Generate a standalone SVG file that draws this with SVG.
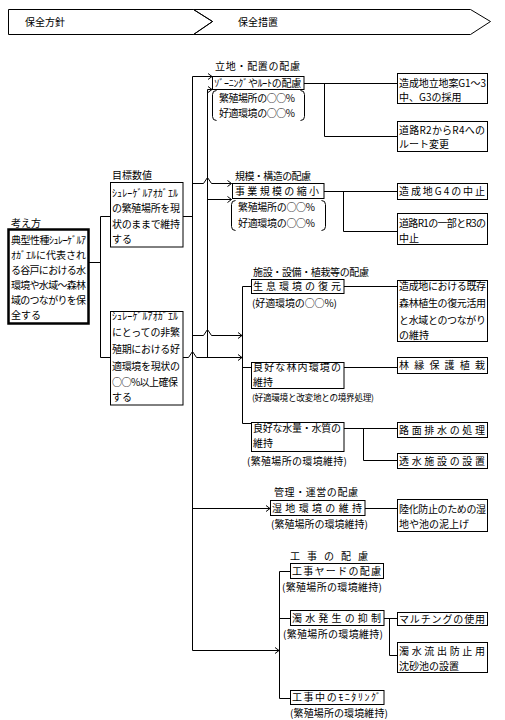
<svg xmlns="http://www.w3.org/2000/svg" width="505" height="720" viewBox="0 0 505 720">
<style>
.t{font-family:"Noto Sans CJK JP","Noto Sans CJK SC",sans-serif;font-size:10px;fill:#000}
.s{font-size:8.6px}
.b{fill:#fff;stroke:#000;stroke-width:1}
.c{fill:none;stroke:#000;stroke-width:1}
</style>
<defs>
<marker id="a" markerWidth="6" markerHeight="7" refX="5" refY="3.5" orient="auto" markerUnits="userSpaceOnUse">
<path d="M1,0.5 L5,3.5 L1,6.5" fill="none" stroke="#000" stroke-width="1"/>
</marker>
</defs>
<rect width="505" height="720" fill="#fff"/>

<g id="header">
<polygon class="c" points="8.5,9.5 193.5,9.5 212.5,21.5 193.5,34.5 8.5,34.5"/>
<polygon class="c" points="193.5,9.5 470.5,9.5 490.5,21.5 470.5,34.5 193.5,34.5 212.5,21.5"/>
<text class="t" x="25" y="26">保全方針</text>
<text class="t" x="238" y="26">保全措置</text>
</g>

<g id="connectors">
<path class="c" d="M89,262.5 H100.5 M100.5,216.5 V357.5 M100.5,216.5 H110.5 M100.5,357.5 H110.5"/>
<path class="c" d="M183,216.5 H192.5 M192.5,76.5 V650.5 M207.5,89.5 V357.5"/>
<path class="c" d="M192.5,76.5 H212" marker-end="url(#a)"/>
<path class="c" d="M207.5,89.5 H212" marker-end="url(#a)"/>
<path class="c" d="M192.5,183.5 H203.5 L207.5,177.5 L211.5,183.5 H231.5" marker-end="url(#a)"/>
<path class="c" d="M207.5,199.5 H231.5" marker-end="url(#a)"/>
<path class="c" d="M192.5,335.5 H203.5 L207.5,329.5 L211.5,335.5 H242" marker-end="url(#a)"/>
<path class="c" d="M183,357.5 H188.5 L192.5,351.5 L196.5,357.5 H242" marker-end="url(#a)"/>
<path class="c" d="M192.5,508.5 H270" marker-end="url(#a)"/>
<path class="c" d="M192.5,650.5 H279" marker-end="url(#a)"/>
<path class="c" d="M242.5,286.5 V423.5 M242.5,286.5 H251 M242.5,367.5 H251 M242.5,423.5 H251"/>
<path class="c" d="M279.5,571.5 V698.5 M279.5,571.5 H290 M279.5,618.5 H290 M279.5,698.5 H290"/>
<path class="c" d="M304,83.5 H397 M324.5,83.5 V136.5 H397"/>
<path class="c" d="M324,191.5 H397 M343.5,191.5 V231.5 H397"/>
<path class="c" d="M344,286.5 H397"/>
<path class="c" d="M344,367.5 H397"/>
<path class="c" d="M344,428.5 H397 M363.5,428.5 V460.5 H397"/>
<path class="c" d="M365,508.5 H397"/>
<path class="c" d="M384,618.5 H397 M389.5,618.5 V655.5 H397"/>
</g>

<g id="n-kangaekata">
<text class="t" x="11" y="227">考え方</text>
<rect x="8.5" y="229.5" width="80" height="94" fill="#fff" stroke="#000" stroke-width="2.5"/>
<text class="t" x="11" y="244" textLength="75">典型性種ｼｭﾚｰｹﾞﾙｱ</text>
<text class="t" x="11" y="259" textLength="75">ｵｶﾞｴﾙに代表され</text>
<text class="t" x="11" y="274" textLength="75">る谷戸における水</text>
<text class="t" x="11" y="289" textLength="75">環境や水域～森林</text>
<text class="t" x="11" y="304" textLength="75">域のつながりを保</text>
<text class="t" x="11" y="319">全する</text>
</g>

<g id="n-mokuhyo1">
<text class="t" x="112" y="179">目標数値</text>
<rect class="b" x="110.5" y="182.5" width="72.5" height="64.5"/>
<text class="t" x="112" y="197" textLength="66">ｼｭﾚｰｹﾞﾙｱｵｶﾞｴﾙ</text>
<text class="t" x="112" y="212" textLength="68">の繁殖場所を現</text>
<text class="t" x="112" y="228" textLength="68">状のままで維持</text>
<text class="t" x="112" y="243">する</text>
</g>

<g id="n-mokuhyo2">
<rect class="b" x="110.5" y="311.5" width="72.5" height="93.5"/>
<text class="t" x="112" y="320" textLength="66">ｼｭﾚｰｹﾞﾙｱｵｶﾞｴﾙ</text>
<text class="t" x="112" y="336" textLength="68">にとっての非繁</text>
<text class="t" x="112" y="353" textLength="68">殖期における好</text>
<text class="t" x="112" y="370" textLength="68">適環境を現状の</text>
<text class="t" x="112" y="386" textLength="66">○○%以上確保</text>
<text class="t" x="112" y="401">する</text>
</g>

<g id="n-zoning">
<text class="t" x="215" y="70" textLength="85">立地・配置の配慮</text>
<rect class="b" x="212.5" y="76.5" width="91.5" height="13"/>
<text class="t" x="214" y="87" textLength="87">ｿﾞｰﾆﾝｸﾞやﾙｰﾄの配慮</text>
<path class="c" d="M216.5,90.5 Q212.5,90.5 212.5,94.5 V116.5 Q212.5,120.5 216.5,120.5 M300.5,90.5 Q304.5,90.5 304.5,94.5 V116.5 Q304.5,120.5 300.5,120.5"/>
<text class="t" x="219" y="102" textLength="76">繁殖場所の○○%</text>
<text class="t" x="219" y="117" textLength="76">好適環境の○○%</text>
</g>

<g id="n-g1">
<rect class="b" x="397.5" y="73.5" width="90" height="30"/>
<text class="t" x="399" y="87" textLength="87">造成地立地案G1～3</text>
<text class="t" x="399" y="101">中、G3の採用</text>
</g>
<g id="n-r2">
<rect class="b" x="397.5" y="121.5" width="90" height="30"/>
<text class="t" x="399" y="134" textLength="86">道路R2からR4への</text>
<text class="t" x="399" y="148">ルート変更</text>
</g>

<g id="n-jigyo">
<text class="t" x="235" y="180" textLength="76">規模・構造の配慮</text>
<rect class="b" x="232.5" y="183.5" width="91.5" height="15"/>
<text class="t" x="235" y="195" textLength="84">事業規模の縮小</text>
<path class="c" d="M235.5,200.5 Q231.5,200.5 231.5,204.5 V226.5 Q231.5,230.5 235.5,230.5 M321.5,200.5 Q325.5,200.5 325.5,204.5 V226.5 Q325.5,230.5 321.5,230.5"/>
<text class="t" x="238" y="211" textLength="77">繁殖場所の○○%</text>
<text class="t" x="238" y="227" textLength="77">好適環境の○○%</text>
</g>

<g id="n-g4">
<rect class="b" x="397.5" y="183.5" width="90" height="16"/>
<text class="t" x="399" y="195" textLength="86">造成地G4の中止</text>
</g>
<g id="n-r1">
<rect class="b" x="397.5" y="213.5" width="90" height="31"/>
<text class="t" x="399" y="227" textLength="87">道路R1の一部とR3の</text>
<text class="t" x="399" y="242">中止</text>
</g>

<g id="n-seisoku">
<text class="t" x="253" y="276" textLength="116">施設・設備・植栽等の配慮</text>
<rect class="b" x="251.5" y="279.5" width="92.5" height="14"/>
<text class="t" x="253" y="290" textLength="88">生息環境の復元</text>
<text class="t" x="252" y="307" textLength="85">(好適環境の○○%)</text>
</g>
<g id="n-kizon">
<rect class="b" x="397.5" y="280.5" width="90" height="61"/>
<text class="t" x="399" y="290" textLength="87">造成地における既存</text>
<text class="t" x="399" y="307" textLength="87">森林植生の復元活用</text>
<text class="t" x="399" y="324" textLength="87">と水域とのつながり</text>
<text class="t" x="399" y="339">の維持</text>
</g>

<g id="n-rinnai">
<rect class="b" x="251.5" y="362.5" width="92.5" height="26"/>
<text class="t" x="253" y="371" textLength="88">良好な林内環境の</text>
<text class="t" x="253" y="386">維持</text>
<text class="t s" x="252" y="401" textLength="122">(好適環境と改変地との境界処理)</text>
</g>
<g id="n-rinen">
<rect class="b" x="397.5" y="357.5" width="90" height="16"/>
<text class="t" x="399" y="369" textLength="86">林縁保護植栽</text>
</g>

<g id="n-suiryo">
<rect class="b" x="251.5" y="422.5" width="92.5" height="29"/>
<text class="t" x="253" y="432" textLength="88">良好な水量・水質の</text>
<text class="t" x="253" y="447">維持</text>
<text class="t" x="247" y="465" textLength="100">(繁殖場所の環境維持)</text>
</g>
<g id="n-romen">
<rect class="b" x="397.5" y="422.5" width="90" height="15"/>
<text class="t" x="399" y="434" textLength="86">路面排水の処理</text>
</g>
<g id="n-tosui">
<rect class="b" x="397.5" y="453.5" width="90" height="15"/>
<text class="t" x="399" y="465" textLength="86">透水施設の設置</text>
</g>

<g id="n-shitchi">
<text class="t" x="274" y="496" textLength="84">管理・運営の配慮</text>
<rect class="b" x="270.5" y="500.5" width="94.5" height="15"/>
<text class="t" x="272" y="512" textLength="90">湿地環境の維持</text>
<text class="t" x="271" y="528" textLength="97">(繁殖場所の環境維持)</text>
</g>
<g id="n-rikuka">
<rect class="b" x="397.5" y="499.5" width="90" height="32"/>
<text class="t" x="399" y="513" textLength="87">陸化防止のための湿</text>
<text class="t" x="399" y="528">地や池の泥上げ</text>
</g>

<g id="n-koji-yard">
<text class="t" x="290" y="560" textLength="78">工事の配慮</text>
<rect class="b" x="290.5" y="563.5" width="93" height="15"/>
<text class="t" x="292" y="575" textLength="89">工事ヤードの配慮</text>
<text class="t" x="282" y="591" textLength="100">(繁殖場所の環境維持)</text>
</g>
<g id="n-dakusui">
<rect class="b" x="290.5" y="610.5" width="93.5" height="15"/>
<text class="t" x="292" y="622" textLength="89">濁水発生の抑制</text>
<text class="t" x="283" y="638" textLength="100">(繁殖場所の環境維持)</text>
</g>
<g id="n-mulching">
<rect class="b" x="397.5" y="612.5" width="90" height="13"/>
<text class="t" x="399" y="623" textLength="86">マルチングの使用</text>
</g>
<g id="n-chinsa">
<rect class="b" x="397.5" y="642.5" width="90" height="30"/>
<text class="t" x="399" y="655" textLength="86">濁水流出防止用</text>
<text class="t" x="399" y="670">沈砂池の設置</text>
</g>
<g id="n-monitoring">
<rect class="b" x="290.5" y="690.5" width="93.5" height="14"/>
<text class="t" x="292" y="701" textLength="89">工事中のﾓﾆﾀﾘﾝｸﾞ</text>
<text class="t" x="290" y="717" textLength="98">(繁殖場所の環境維持)</text>
</g>
</svg>
